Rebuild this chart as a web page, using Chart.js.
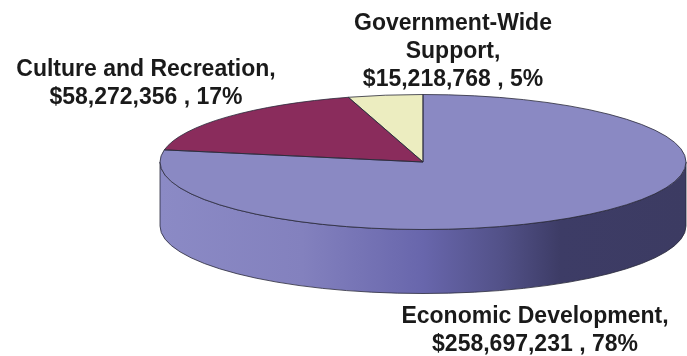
<!DOCTYPE html>
<html>
<head>
<meta charset="utf-8">
<script src="https://cdn.jsdelivr.net/npm/chart.js@4/dist/chart.umd.min.js"></script>
<style>
  html, body { margin: 0; padding: 0; background: #fff; }
  #wrap { position: relative; width: 687px; height: 356px; }
</style>
</head>
<body>
<div id="wrap"><canvas id="c" width="687" height="356"></canvas></div>
<script>
// ---- data ----
const categories = ["Economic Development", "Culture and Recreation", "Government-Wide Support"];
const amounts = [258697231, 58272356, 15218768];
const percentLabels = ["78%", "17%", "5%"];
const sliceColors = ["#8A89C3", "#8A2C5C", "#ECEDC0"];

// ---- label text lines (built from data) ----
function fmtMoney(v) { return "$" + v.toLocaleString("en-US"); }
const labelLines = [
  [categories[0] + ",", fmtMoney(amounts[0]) + " , " + percentLabels[0]],
  ["Culture and Recreation,", fmtMoney(amounts[1]) + " , " + percentLabels[1]],
  ["Government-Wide", "Support,", fmtMoney(amounts[2]) + " , " + percentLabels[2]]
];
// label anchors (layout only)
const labelPos = [
  { x: 535, y: 323 },
  { x: 146, y: 76 },
  { x: 453, y: 30 }
];

const TILT = 67.5 / 263;   // vertical squash of the top face
const DEPTH = 64;          // thickness of the pie in px

const pie3d = {
  id: "pie3d",
  beforeDatasetsDraw(chart) {
    const ctx = chart.ctx;
    const meta = chart.getDatasetMeta(0);
    ctx.save();
    meta.data.forEach((arc) => {
      const p = arc.getProps(["x", "y", "startAngle", "endAngle", "outerRadius"], true);
      const R = p.outerRadius, ry = R * TILT;
      const grad = ctx.createLinearGradient(p.x - R, 0, p.x + R, 0);
      grad.addColorStop(0, "#8B8AC5");
      grad.addColorStop(0.27, "#8381BE");
      grad.addColorStop(0.5, "#6866AC");
      grad.addColorStop(0.65, "#525188");
      grad.addColorStop(0.76, "#3D3C66");
      grad.addColorStop(1, "#3C3B62");
      for (let k = -1; k <= 1; k++) {
        const lo = Math.max(p.startAngle, 2 * Math.PI * k);
        const hi = Math.min(p.endAngle, 2 * Math.PI * k + Math.PI);
        if (hi > lo) {
          ctx.beginPath();
          ctx.ellipse(p.x, p.y, R, ry, 0, lo, hi, false);
          ctx.ellipse(p.x, p.y + DEPTH, R, ry, 0, hi, lo, true);
          ctx.closePath();
          ctx.fillStyle = grad;
          ctx.fill();
          ctx.lineWidth = 0.8;
          ctx.strokeStyle = "#2a2a3a";
          ctx.stroke();
        }
      }
    });
    ctx.restore();
    // squash the top face
    const cy = meta.data[0].y;
    ctx.save();
    ctx.translate(0, cy);
    ctx.scale(1, TILT);
    ctx.translate(0, -cy);
  },
  afterDatasetsDraw(chart) {
    const ctx = chart.ctx;
    ctx.restore();
    const meta = chart.getDatasetMeta(0);
    ctx.save();
    meta.data.forEach((arc) => {
      const p = arc.getProps(["x", "y", "startAngle", "endAngle", "outerRadius"], true);
      const R = p.outerRadius, ry = R * TILT;
      ctx.beginPath();
      ctx.moveTo(p.x, p.y);
      ctx.ellipse(p.x, p.y, R, ry, 0, p.startAngle, p.endAngle, false);
      ctx.closePath();
      ctx.lineWidth = 0.8;
      ctx.strokeStyle = "#2a2a3a";
      ctx.stroke();
    });
    ctx.restore();
  },
  afterDraw(chart) {
    const ctx = chart.ctx;
    ctx.save();
    ctx.font = "bold 23px 'Liberation Sans', Arial, sans-serif";
    ctx.fillStyle = "#1a1a1a";
    ctx.textAlign = "center";
    ctx.textBaseline = "alphabetic";
    labelLines.forEach((lines, i) => {
      lines.forEach((t, j) => {
        ctx.fillText(t, labelPos[i].x, labelPos[i].y + j * 28);
      });
    });
    ctx.restore();
  }
};

new Chart(document.getElementById("c"), {
  type: "pie",
  data: {
    labels: categories,
    datasets: [{
      data: amounts,
      backgroundColor: sliceColors,
      borderWidth: 0,
      clip: false,
      radius: 263
    }]
  },
  options: {
    responsive: false,
    animation: false,
    events: [],
    layout: { padding: { left: 160, right: 1, top: 0, bottom: 32 } },
    plugins: { legend: { display: false }, tooltip: { enabled: false } }
  },
  plugins: [pie3d]
});
</script>
</body>
</html>
